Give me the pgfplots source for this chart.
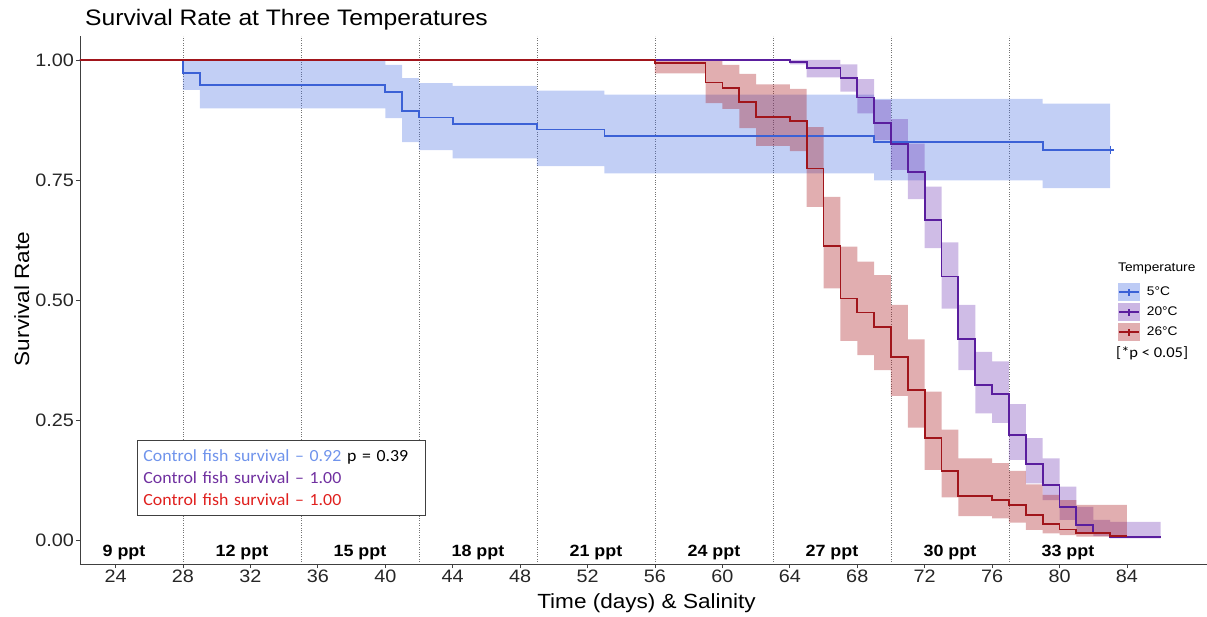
\documentclass[border=0pt]{standalone}
\usepackage{pgfplots}
\usepackage{pgfplotstable}
\pgfplotsset{compat=1.18}
\usepgfplotslibrary{fillbetween}
\usepackage{fontspec}
\setmainfont{Liberation Sans}[FakeStretch=1.1]
\newfontfamily\carlito{Carlito}[FakeStretch=1.1]
\newfontfamily\carlitob{Carlito}[FakeStretch=1.05]
\definecolor{c5}{HTML}{3B61D6}
\definecolor{c20}{HTML}{5A1E9E}
\definecolor{c26}{HTML}{A1151B}
\definecolor{r5}{HTML}{4169E1}
\definecolor{r20}{HTML}{6A2FB0}
\definecolor{r26}{HTML}{A8181E}
\definecolor{t5}{HTML}{7094EC}
\definecolor{t20}{HTML}{7030A0}
\definecolor{t26}{HTML}{E0201E}

% 5 C
\pgfplotstableread{
x   s      lo     up
21  1      1      1
28  0.973  0.938  1.0
29  0.948  0.899  1.0
40  0.934  0.879  0.990
41  0.894  0.829  0.962
42  0.880  0.812  0.952
44  0.867  0.795  0.946
49  0.855  0.779  0.936
53  0.842  0.764  0.928
69  0.829  0.749  0.919
79  0.8125 0.733  0.909
83  0.8125 0.733  0.909
}\tfive
% 20 C
\pgfplotstableread{
x   s      lo     up
21  1      1      1
64  0.996  0.991  1.0
65  0.983  0.964  1.0
67  0.962  0.934  0.991
68  0.922  0.889  0.960
69  0.868  0.833  0.917
70  0.825  0.771  0.877
71  0.767  0.710  0.826
72  0.667  0.608  0.736
73  0.549  0.482  0.620
74  0.419  0.354  0.490
75  0.323  0.264  0.392
76  0.3035 0.244  0.372
77  0.219  0.167  0.283
78  0.158  0.118  0.212
79  0.1146 0.083  0.170
80  0.069  0.042  0.111
81  0.031  0.015  0.069
82  0.014  0.008  0.042
83  0.007  0.0035 0.038
86  0.007  0.0035 0.038
}\ttwenty
% 26 C
\pgfplotstableread{
x   s      lo     up
21  1      1      1
56  0.993  0.972  1.0
59  0.953  0.910  1.0
60  0.942  0.898  0.990
61  0.912  0.858  0.971
62  0.881  0.821  0.949
64  0.873  0.810  0.940
65  0.774  0.694  0.860
66  0.613  0.524  0.715
67  0.503  0.415  0.611
68  0.474  0.385  0.580
69  0.443  0.354  0.552
70  0.382  0.300  0.490
71  0.3125 0.234  0.418
72  0.212  0.146  0.309
73  0.144  0.089  0.230
74  0.092  0.050  0.170
76  0.083  0.045  0.160
77  0.073  0.036  0.144
78  0.052  0.021  0.116
79  0.033  0.014  0.094
80  0.022  0.010  0.083
81  0.015  0.007  0.073
83  0.008  0.007  0.073
84  0.008  0.007  0.073
}\ttwentysix

\pgfplotsset{
  survleg/.style 2 args={legend image code/.code={
    \path[fill=#2, fill opacity=0.35, draw=none] (0pt,-9pt) rectangle (22pt,9pt);
    \path[draw=#1, line width=1.4pt, fill=none] (1pt,0pt) -- (21pt,0pt);
    \path[draw=#1, line width=1.1pt, fill=none] (11pt,-3.5pt) -- (11pt,3.5pt);
    \path[draw=none, fill=none] (0pt,0pt) -- (29pt,0pt);
  }}
}

\begin{document}
\begin{tikzpicture}[x=1pt,y=1pt]
\begin{axis}[
  at={(0pt,0pt)}, anchor=south west,
  scale only axis, width=1127pt, height=528pt,
  xmin=21.89, xmax=88.747, ymin=-0.05, ymax=1.05,
  axis lines*=left, axis line style={-, color=black!75, line width=0.8pt},
  tick align=outside, major tick length=4pt,
  tick style={color=black!75, line width=0.8pt},
  xtick={24,28,...,84},
  ytick={0,0.25,0.5,0.75,1},
  yticklabels={0.00,0.25,0.50,0.75,1.00},
  /pgf/number format/assume math mode=true,
  ticklabel style={font=\fontsize{18}{18}\selectfont, color=black!85},
  xticklabel style={inner sep=1pt, yshift=-1pt},
  yticklabel style={inner sep=1pt, xshift=-1pt},
  extra x ticks={28,35,42,49,56,63,70,77},
  extra x tick labels={},
  extra x tick style={grid=major, major tick length=0pt,
     major grid style={dotted, color=black!55, line width=0.9pt}},
  legend style={at={(0.921,0.532)}, anchor=north west, draw=none, fill=none,
     inner sep=0pt, outer sep=0pt, font=\fontsize{12.5}{14}\selectfont,
     row sep=2pt, nodes={inner sep=0pt, anchor=west}},
  legend cell align=left,
]
% ribbons
\addplot[const plot, draw=none, forget plot, name path=bu] table[x=x,y=up]{\tfive};
\addplot[const plot, draw=none, forget plot, name path=bl] table[x=x,y=lo]{\tfive};
\addplot[fill=r5, fill opacity=0.32, draw=none, forget plot] fill between[of=bu and bl];
\addplot[const plot, draw=none, forget plot, name path=pu] table[x=x,y=up]{\ttwenty};
\addplot[const plot, draw=none, forget plot, name path=pl] table[x=x,y=lo]{\ttwenty};
\addplot[fill=r20, fill opacity=0.32, draw=none, forget plot] fill between[of=pu and pl];
\addplot[const plot, draw=none, forget plot, name path=ru] table[x=x,y=up]{\ttwentysix};
\addplot[const plot, draw=none, forget plot, name path=rl] table[x=x,y=lo]{\ttwentysix};
\addplot[fill=r26, fill opacity=0.35, draw=none, forget plot] fill between[of=ru and rl];
% lines
\addplot[const plot, c5, line width=1.7pt, survleg={c5}{r5}] table[x=x,y=s]{\tfive};
\addlegendentry{5°C}
\addplot[const plot, c20, line width=1.8pt, survleg={c20}{r20}] table[x=x,y=s]{\ttwenty};
\addlegendentry{20°C}
\addplot[const plot, c26, line width=1.8pt, survleg={c26}{r26}] table[x=x,y=s]{\ttwentysix};
\addlegendentry{26°C}
\addplot[only marks, mark=+, mark size=4pt, c5, line width=1.1pt, forget plot] coordinates {(83,0.8125)};
% salinity labels
\begin{scope}[every node/.style={font=\bfseries\fontsize{16.3}{16}\selectfont, inner sep=0pt}]
\node at (axis cs:24.5,-0.026) {9 ppt};
\node at (axis cs:31.5,-0.026) {12 ppt};
\node at (axis cs:38.5,-0.026) {15 ppt};
\node at (axis cs:45.5,-0.026) {18 ppt};
\node at (axis cs:52.5,-0.026) {21 ppt};
\node at (axis cs:59.5,-0.026) {24 ppt};
\node at (axis cs:66.5,-0.026) {27 ppt};
\node at (axis cs:73.5,-0.026) {30 ppt};
\node at (axis cs:80.5,-0.026) {33 ppt};
\end{scope}
\end{axis}
% titles and labels (origin = axis south west = image (80,564))
\node[anchor=base west, inner sep=0pt, font=\fontsize{22.4}{22}\selectfont] at (5,538) {Survival Rate at Three Temperatures};
\node[rotate=90, inner sep=0pt, font=\fontsize{20.5}{20.5}\selectfont] at (-58.3,265) {Survival Rate};
\node[inner sep=0pt, font=\fontsize{20.5}{20.5}\selectfont] at (566.5,-39) {Time (days) \& Salinity};
\node[anchor=west, inner sep=0pt, font=\fontsize{12.5}{14}\selectfont] at (1038,296) {Temperature};
\node[anchor=west, inner sep=0pt, font=\carlito\fontsize{15}{16}\selectfont] at (1036,211) {[*p < 0.05]};
\node[draw=black!75, fill=white, line width=0.9pt, anchor=north west,
      minimum height=75pt, text width=276pt, inner xsep=6pt, inner ysep=4pt,
      align=left, font=\carlitob\fontsize{17}{22}\selectfont] at (57,124)
  {{\color{t5}Control fish survival – 0.92} p = 0.39\\
   {\color{t20}Control fish survival – 1.00}\\
   {\color{t26}Control fish survival – 1.00}};
\pgfresetboundingbox
\path[use as bounding box] (-80,-52) rectangle (1127,564);
\end{tikzpicture}
\end{document}
